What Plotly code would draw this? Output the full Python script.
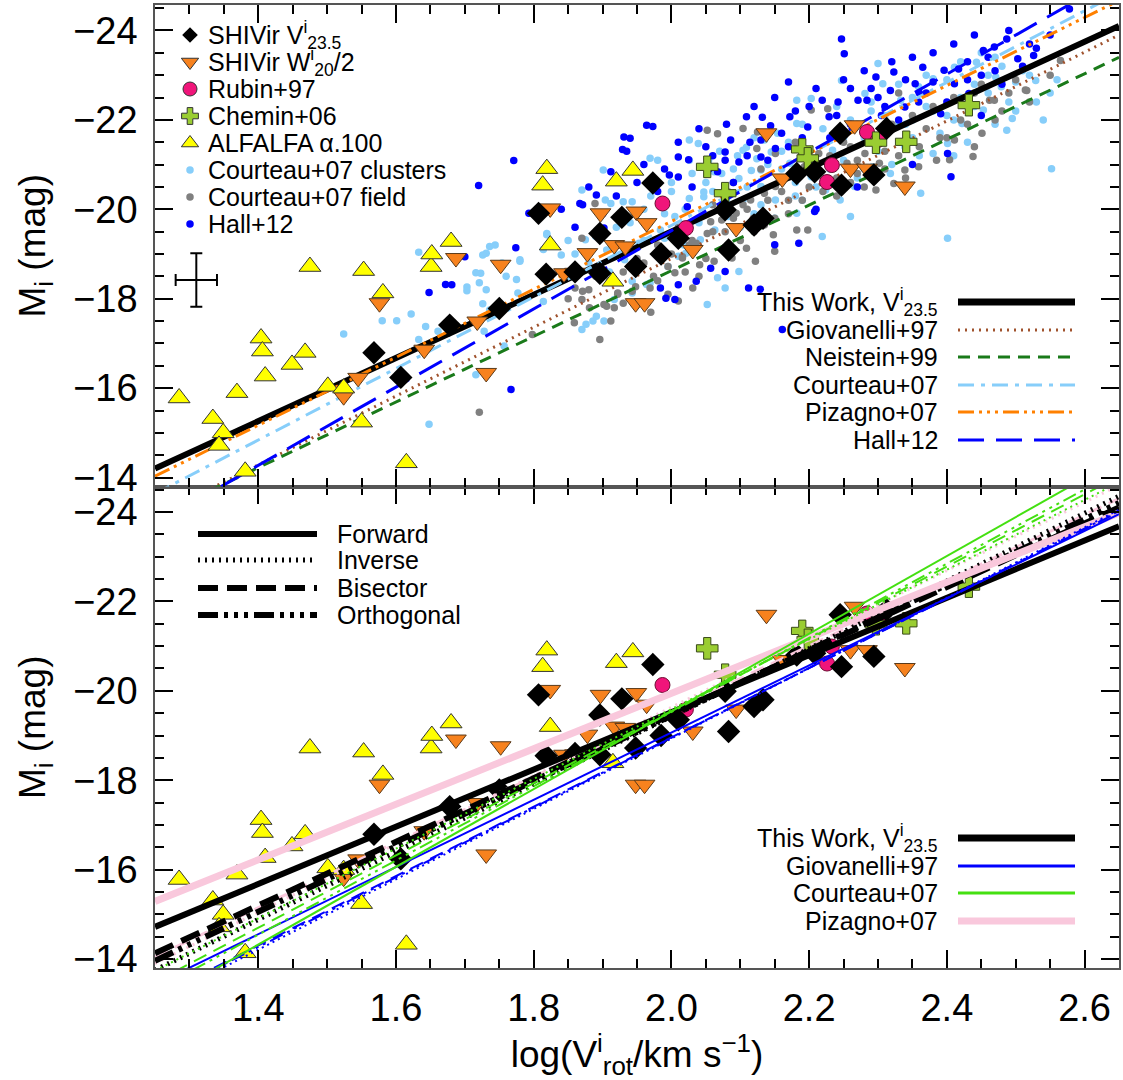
import plotly.graph_objects as go

# ---------------- data ----------------
X_RANGE = [1.25, 2.65]
Y_RANGE = [-13.8, -24.57]
X_TICKS = [1.4, 1.6, 1.8, 2.0, 2.2, 2.4, 2.6]
Y_TICKS = [-24, -22, -20, -18, -16, -14]

# SHIVir V23.5 (black diamonds)
shiv_v_x = [1.568, 1.607, 1.678, 1.750, 1.807, 1.818, 1.860, 1.896, 1.896, 1.928, 1.948, 1.973,
            1.985, 2.010, 2.078, 2.083, 2.120, 2.133, 2.182, 2.208, 2.247, 2.294, 2.245, 2.3125]
shiv_v_m = [-16.79, -16.24, -17.41, -17.78, -19.91, -18.55, -18.60, -19.46, -18.57, -19.82, -18.72, -20.59,
            -19.00, -19.35, -19.99, -19.09, -19.65, -19.80, -20.80, -20.84, -20.54, -20.77, -21.70, -21.81]
# SHIVir W20/2 (orange down triangles)
shiv_w_x = [1.524, 1.545, 1.576, 1.641, 1.687, 1.718, 1.731, 1.752, 1.824, 1.844, 1.860, 1.878, 1.897,
            1.917, 1.933, 1.949, 1.948, 1.961, 1.964, 2.031, 2.094, 2.138, 2.161, 2.260, 2.284, 2.339, 2.266]
shiv_w_m = [-15.82, -16.23, -17.90, -16.86, -18.91, -17.49, -16.34, -18.76, -20.02, -18.57, -18.58, -19.02, -19.91,
            -19.20, -19.17, -19.95, -17.90, -17.90, -19.69, -19.09, -19.58, -21.70, -20.69, -20.91, -20.91, -20.51, -21.88]
# Rubin+97
rubin_x = [1.987, 2.021, 2.226, 2.233, 2.284, 2.300]
rubin_m = [-20.13, -19.58, -20.61, -20.99, -21.73, -21.55]
# Chemin+06
chemin_x = [2.052, 2.078, 2.190, 2.198, 2.297, 2.341, 2.432]
chemin_m = [-20.95, -20.36, -21.34, -21.14, -21.49, -21.51, -22.33]
# ALFALFA a.100
alfalfa_x = [1.285, 1.334, 1.349, 1.343, 1.369, 1.381, 1.404, 1.406, 1.410, 1.449, 1.468, 1.475, 1.501, 1.524,
             1.550, 1.553, 1.581, 1.615, 1.651, 1.652, 1.680, 1.819, 1.813, 1.824, 1.920, 1.944, 1.915]
alfalfa_m = [-15.78, -15.32, -15.00, -14.72, -15.90, -14.14, -17.12, -16.83, -16.27, -16.53, -16.80, -18.72, -16.04, -16.00,
             -15.24, -18.63, -18.13, -14.33, -18.72, -19.00, -19.28, -20.91, -20.54, -19.20, -20.63, -20.87, -18.39]

# Courteau+07 clusters
cc_x = [1.524, 1.580, 1.601, 1.622, 1.633, 1.648, 1.643, 1.661, 1.703, 1.721, 1.723, 1.731, 1.744, 1.731, 1.726,
        1.760, 1.780, 1.819, 1.716, 1.757, 1.777, 1.814, 1.728, 1.633, 1.736, 1.703, 1.736, 1.726, 1.716, 1.754,
        1.775, 1.780, 1.819, 1.814, 1.840, 1.912, 1.943, 1.980, 2.039, 2.026, 2.054, 2.062, 2.047, 2.096, 2.109,
        2.116, 2.124, 2.098, 2.145, 2.026, 1.990, 2.018, 2.010, 2.067, 2.078, 2.052, 1.902, 1.886, 1.876, 1.964,
        1.943, 2.098, 2.300, 2.247, 2.203, 2.182, 2.154, 2.401, 2.552, 2.487, 2.495, 2.529, 2.500, 2.471, 2.362,
        2.260, 2.219, 2.182, 2.151, 2.026, 1.969, 1.930, 1.904, 1.901, 1.870, 2.047, 2.073, 2.104, 2.135, 2.182,
        2.281, 2.307, 2.333, 2.359, 2.380, 2.411, 2.443, 2.479, 2.453, 2.422, 2.401, 2.380, 2.339, 2.318, 2.292,
        2.266, 2.245, 2.224, 2.203, 2.234, 2.172, 2.130, 2.104, 2.083, 2.063, 2.042, 2.021, 1.995, 1.969, 1.943,
        1.917, 1.891, 1.870, 1.953, 1.984, 1.906, 1.875, 1.932, 2.005, 2.130, 2.250, 2.270, 2.290, 2.310, 2.350,
        2.370, 2.420, 2.440, 2.460, 2.510, 2.530, 2.550, 2.490, 2.400, 2.330, 2.160, 2.180, 2.210, 2.050, 2.000,
        1.960, 1.920, 1.850, 1.880, 2.120, 2.190, 2.280, 2.350,
        1.860, 1.890, 1.910, 1.940, 1.960, 1.970, 1.990, 2.000, 2.020, 2.030, 2.040, 2.060, 2.070, 2.080, 2.090,
        2.100, 2.110, 2.120, 2.130, 2.140, 2.150, 2.160, 2.170, 2.180, 2.190, 2.200, 2.210, 2.220, 2.230, 2.240,
        2.250, 2.260, 2.270, 2.280, 2.290, 2.300, 2.310, 2.320, 2.330, 2.340, 2.350, 2.360, 2.370, 2.380, 2.390,
        2.400, 2.410, 2.420, 2.430, 2.440, 2.450, 2.460, 2.470, 2.480, 2.500, 2.520, 2.540, 2.560, 2.470, 2.410]
cc_m = [-17.21, -17.51, -17.51, -17.66, -19.04, -15.19, -17.38, -17.27, -18.26, -18.36, -18.57, -19.02, -19.20, -18.20, -17.89,
        -18.50, -18.87, -19.46, -16.30, -16.94, -18.13, -17.94, -17.27, -17.09, -17.75, -18.18, -19.17, -18.98, -18.58, -18.80,
        -18.43, -18.84, -19.43, -19.10, -18.98, -20.13, -20.17, -21.10, -21.47, -21.10, -21.10, -20.84, -20.39, -21.20, -21.39,
        -20.87, -21.13, -20.69, -21.28, -20.24, -19.35, -19.20, -18.95, -18.47, -18.24, -17.87, -17.50, -17.50, -17.43, -18.32,
        -18.39, -18.61, -23.26, -22.88, -22.48, -21.92, -21.70, -19.35, -20.91, -21.77, -22.03, -22.88, -22.85, -22.96, -20.36,
        -19.84, -19.39, -19.91, -20.21, -21.55, -21.14, -20.17, -20.21, -20.88, -20.43, -20.28, -20.80, -21.32, -21.55, -22.44,
        -22.59, -22.81, -22.44, -22.74, -22.92, -23.18, -23.29, -22.74, -22.22, -21.92, -21.47, -21.25, -21.40, -20.80, -20.95,
        -20.51, -20.21, -20.43, -20.73, -21.32, -21.03, -20.51, -20.21, -19.84, -19.54, -19.32, -19.02, -18.72, -18.35, -18.13,
        -17.98, -17.61, -17.31, -19.24, -19.54, -19.09, -19.32, -18.87, -19.84, -20.88, -21.60, -21.90, -22.20, -21.70, -22.00,
        -22.30, -22.50, -22.80, -23.00, -23.10, -22.40, -22.60, -22.40, -22.10, -21.90, -21.30, -20.60, -21.00, -20.60, -20.40,
        -20.00, -19.60, -19.30, -18.80, -19.90, -20.20, -20.90, -21.60,
        -19.00, -19.40, -18.60, -19.70, -19.30, -20.30, -19.90, -20.60, -20.00, -20.80, -19.70, -20.40, -21.30, -20.20, -20.90,
        -19.60, -20.50, -21.60, -20.10, -21.00, -19.80, -20.90, -21.50, -20.30, -21.90, -21.20, -20.50, -21.80, -20.90, -22.30,
        -21.10, -22.00, -20.70, -21.60, -22.40, -21.30, -22.10, -21.00, -22.80, -21.90, -22.50, -21.20, -23.00, -22.20, -21.70,
        -22.90, -22.00, -23.30, -21.50, -22.30, -23.50, -22.60, -21.90, -23.20, -22.20, -23.00, -22.00, -22.90, -23.40, -21.20]
# Courteau+07 field
cf_x = [1.721, 1.798, 1.889, 1.870, 2.067, 2.125, 2.124, 2.083, 2.104, 2.119, 2.057, 2.078, 2.026, 2.016, 2.041,
        2.005, 2.031, 1.969, 1.943, 1.922, 1.902, 1.881, 1.871, 1.860, 1.917, 1.912, 2.010, 1.995, 2.088, 2.062,
        2.122, 2.150, 2.109, 2.148, 2.135, 2.052, 2.104, 2.227, 2.203, 2.565, 2.516, 2.469, 2.438, 2.451, 2.411,
        2.385, 2.359, 2.339, 2.323, 2.302, 2.281, 2.255, 2.214, 2.193, 2.172, 2.151, 2.135, 2.115, 2.094, 2.073,
        2.052, 2.036, 2.016, 1.995, 1.974, 1.948, 1.922, 1.906, 1.896, 1.859, 1.870, 2.151, 2.182, 2.198, 2.297,
        2.514, 2.462, 2.404, 2.240, 2.270, 2.310, 2.340, 2.370, 2.420, 2.480, 2.500, 2.440, 2.200, 2.170, 2.230,
        2.260, 2.290, 2.090, 2.010, 1.980, 1.950, 1.930, 1.890, 1.850, 2.060, 2.130, 2.400, 2.550, 1.970, 2.040,
        2.180, 2.330,
        1.880, 1.910, 1.930, 1.960, 1.980, 2.000, 2.020, 2.030, 2.050, 2.060, 2.080, 2.090, 2.100, 2.110, 2.120,
        2.140, 2.150, 2.160, 2.170, 2.180, 2.190, 2.210, 2.220, 2.230, 2.240, 2.250, 2.260, 2.270, 2.280, 2.300,
        2.310, 2.320, 2.330, 2.350, 2.360, 2.380, 2.390, 2.410, 2.430, 2.450, 2.470, 2.490, 2.520, 2.440, 2.340]
cf_m = [-15.46, -17.20, -20.13, -19.35, -21.69, -21.73, -21.36, -20.39, -20.10, -19.80, -19.72, -19.50, -19.20, -18.91, -18.76,
        -18.58, -18.24, -18.24, -18.17, -18.10, -17.87, -17.80, -18.17, -18.24, -17.80, -17.50, -17.95, -18.10, -18.91, -18.84,
        -18.84, -19.06, -19.13, -19.43, -19.65, -21.77, -21.81, -22.25, -22.22, -23.33, -22.66, -22.44, -21.18, -21.70, -21.55,
        -21.10, -20.95, -20.88, -20.58, -21.03, -21.25, -21.03, -21.25, -20.95, -20.73, -20.51, -20.36, -20.21, -19.91, -19.76,
        -19.46, -19.24, -18.94, -18.72, -18.50, -18.27, -18.13, -17.83, -17.09, -17.46, -17.98, -21.25, -19.54, -19.54, -20.43,
        -22.67, -22.44, -21.11, -20.70, -20.80, -21.30, -21.50, -21.80, -22.00, -22.20, -22.90, -22.60, -20.50, -20.20, -21.00,
        -21.40, -21.70, -20.60, -19.60, -19.20, -18.90, -18.60, -18.50, -18.00, -20.10, -20.90, -21.60, -23.00, -17.70, -18.50,
        -21.50, -22.60,
        -18.20, -18.40, -17.90, -18.80, -18.40, -19.00, -18.60, -19.30, -18.90, -19.50, -19.10, -19.80, -19.30, -20.00, -19.50,
        -20.20, -19.80, -20.40, -19.90, -20.70, -20.20, -20.90, -20.40, -21.20, -20.30, -21.50, -20.60, -21.10, -20.50, -21.60,
        -20.90, -21.90, -21.20, -22.10, -21.40, -22.30, -21.60, -22.50, -21.90, -22.80, -22.00, -22.60, -22.40, -21.40, -20.70]
# Hall+12
hall_x = [1.771, 1.720, 1.774, 1.700, 1.681, 1.648, 1.767, 1.793, 1.973, 1.935, 1.940, 2.025, 2.010, 1.871, 1.912,
          1.672, 2.036, 2.078, 2.129, 2.005, 2.132, 2.144, 2.114, 2.098, 2.078, 2.067, 2.023, 2.150, 1.902, 2.247,
          2.251, 2.170, 2.109, 1.964, 1.931, 1.929, 1.997, 2.010, 1.891, 1.867, 2.055, 2.086, 2.078, 2.130, 2.172,
          2.219, 2.242, 2.271, 2.284, 2.323, 2.354, 2.380, 2.396, 2.417, 2.453, 2.487, 2.503, 2.526, 2.469, 2.359,
          2.339, 2.406, 2.401, 2.185, 2.208, 2.057, 2.112, 2.161, 1.992, 2.010, 1.984, 2.578, 2.305, 2.391, 2.130,
          2.151, 2.198, 2.229, 2.318, 2.411, 2.432, 2.365, 2.297, 2.260, 2.200, 2.160, 2.340, 2.430, 2.470, 2.520,
          2.550, 2.290, 2.240, 2.190, 2.110, 2.050, 1.980, 1.950, 2.450, 2.370, 2.310,
          1.840, 1.860, 1.880, 1.900, 1.920, 1.960, 1.990, 2.010, 2.030, 2.040, 2.060, 2.080, 2.090, 2.120, 2.140,
          2.150, 2.170, 2.180, 2.200, 2.210, 2.230, 2.250, 2.260, 2.280, 2.300, 2.320, 2.330, 2.350, 2.360, 2.380,
          2.400, 2.410, 2.430, 2.440, 2.460, 2.480, 2.490, 2.510, 2.530, 2.270, 2.350, 2.210, 2.450]
hall_m = [-21.09, -20.53, -19.14, -18.94, -18.31, -18.14, -15.97, -19.91, -21.85, -21.30, -21.59, -21.11, -20.72, -20.10, -20.84,
          -18.32, -18.39, -18.61, -18.21, -17.98, -22.06, -21.87, -21.50, -21.06, -21.28, -20.84, -20.06, -19.21, -19.58, -23.81,
          -23.48, -22.85, -22.07, -21.88, -21.62, -21.34, -20.77, -21.17, -20.32, -20.13, -20.91, -21.55, -21.10, -21.55, -22.07,
          -22.44, -22.40, -22.44, -22.44, -23.07, -22.81, -22.85, -23.11, -23.14, -23.55, -23.81, -23.37, -23.44, -23.63, -22.40,
          -22.29, -20.73, -21.25, -19.24, -19.95, -18.68, -18.24, -17.31, -18.01, -18.31, -18.24, -24.48, -22.10, -22.14, -21.17,
          -21.36, -21.84, -22.07, -22.66, -22.81, -22.59, -23.18, -22.96, -22.70, -22.30, -21.70, -22.90, -23.30, -23.10, -23.70,
          -23.90, -22.70, -22.10, -21.60, -21.20, -21.40, -20.40, -20.60, -23.00, -22.60, -22.30,
          -20.00, -19.60, -20.50, -19.90, -20.30, -21.00, -20.90, -21.50, -20.50, -21.80, -21.20, -21.90, -20.60, -22.30, -21.10,
          -22.50, -21.40, -22.20, -21.00, -22.70, -21.60, -22.90, -21.90, -23.10, -22.50, -23.30, -22.00, -23.40, -22.60, -23.50,
          -22.40, -23.70, -22.90, -23.90, -23.40, -22.80, -24.00, -23.20, -23.60, -20.50, -21.00, -20.00, -22.10]

# typical error bar
err_x, err_m = 1.31, -18.42
err_dx, err_dm = 0.03, 0.6

# top-panel relations: magnitude at logV = 1.25 and at logV = 2.65
top_names = ["This Work, V<sup>i</sup><sub>23.5</sub>", "Giovanelli+97", "Neistein+99",
             "Courteau+07", "Pizagno+07", "Hall+12"]
top_m_lo = [-14.20, -13.13, -13.12, -13.64, -14.03, -12.96]
top_m_hi = [-24.10, -23.90, -23.40, -24.84, -24.67, -25.21]

# bottom-panel relations (forward, inverse, bisector, orthogonal)
fit_kinds = ["Forward", "Inverse", "Bisector", "Orthogonal"]
bot_names = ["This Work, V<sup>i</sup><sub>23.5</sub>", "Giovanelli+97", "Courteau+07", "Pizagno+07"]
this_lo = [-14.72, -13.75, -14.13, -13.96]
this_hi = [-23.68, -24.35, -24.10, -24.20]
giov_lo = [-13.43, -13.03, -13.14, -13.10]
giov_hi = [-23.95, -24.05, -24.00, -24.02]
cour_lo = [-13.02, -13.74, -13.49, -13.30]
cour_hi = [-25.19, -24.66, -24.80, -24.92]
piza_lo = [-15.29, -13.90, -14.05]
piza_hi = [-23.98, -24.60, -24.30]

# ---------------- layout constants ----------------
W, H = 1123, 1080
ML, MR, MT, MB = 155, 4, 5, 112
PW, PH = W - ML - MR, H - MT - MB
FONT = "Liberation Sans, Arial, Helvetica, sans-serif"

def px2paper_x(px):
    return (px - ML) / PW

def py2paper_y(py):
    return (H - MB - py) / PH

def px2data_x(px):
    return X_RANGE[0] + (px - ML) / PW * (X_RANGE[1] - X_RANGE[0])

def py2data_top(py):
    return Y_RANGE[1] + (py - MT) / (PH / 2) * (Y_RANGE[0] - Y_RANGE[1])

fig = go.Figure()
TOP = dict(xaxis="x2", yaxis="y2")
BOT = dict(xaxis="x", yaxis="y")
XE = [X_RANGE[0], X_RANGE[1]]

# ---------- top panel ----------
fig.add_trace(go.Scatter(x=cc_x, y=cc_m, mode="markers", marker=dict(size=7.5, color="#87cefa", opacity=1), **TOP))
fig.add_trace(go.Scatter(x=cf_x, y=cf_m, mode="markers", marker=dict(size=7.5, color="#808080", opacity=1), **TOP))
fig.add_trace(go.Scatter(x=hall_x, y=hall_m, mode="markers", marker=dict(size=7.5, color="#0000ff", opacity=1), **TOP))

top_styles = [
    dict(color="black", width=6, dash="solid"),
    dict(color="#a0522d", width=3, dash="2px,5px"),
    dict(color="#1a7a1a", width=3, dash="12px,8px"),
    dict(color="#87cefa", width=3, dash="16px,7px,4px,7px"),
    dict(color="#ff8000", width=3, dash="16px,5px,3px,5px,3px,5px,3px,5px"),
    dict(color="#0000ff", width=3, dash="26px,12px"),
]
for lo, hi, st in zip(top_m_lo, top_m_hi, top_styles):
    fig.add_trace(go.Scatter(x=XE, y=[lo, hi], mode="lines", line=st, **TOP))

def add_points(ax):
    fig.add_trace(go.Scatter(x=shiv_w_x, y=shiv_w_m, mode="markers",
                             marker=dict(symbol="triangle-down", size=18, color="#f7821e", opacity=1,
                                         line=dict(color="#5a3a1a", width=1)), **ax))
    fig.add_trace(go.Scatter(x=alfalfa_x, y=alfalfa_m, mode="markers",
                             marker=dict(symbol="triangle-up", size=19, color="#ffff00", opacity=1,
                                         line=dict(color="#333333", width=1)), **ax))
    fig.add_trace(go.Scatter(x=rubin_x, y=rubin_m, mode="markers",
                             marker=dict(symbol="circle", size=15, color="#f0157a", opacity=1,
                                         line=dict(color="#6a0a30", width=1)), **ax))
    fig.add_trace(go.Scatter(x=chemin_x, y=chemin_m, mode="markers",
                             marker=dict(symbol="cross", size=18, color="#9acd32", opacity=1,
                                         line=dict(color="#3a4a1a", width=1)), **ax))
    fig.add_trace(go.Scatter(x=shiv_v_x, y=shiv_v_m, mode="markers",
                             marker=dict(symbol="diamond", size=18, color="black", opacity=1), **ax))

add_points(TOP)

fig.add_trace(go.Scatter(x=[err_x], y=[err_m], mode="markers", marker=dict(size=1, color="black"),
                         error_x=dict(type="constant", value=err_dx, thickness=2, width=6, color="black"),
                         error_y=dict(type="constant", value=err_dm, thickness=2, width=6, color="black"),
                         **TOP))

# ---------- bottom panel ----------
add_points(BOT)

black_styles = [dict(width=6, dash="solid"), dict(width=5, dash="2px,5px"),
                dict(width=6, dash="20px,9px"), dict(width=6, dash="20px,6px,4px,6px,4px,6px,4px,6px")]
thin_dash = ["solid", "2px,4px", "14px,8px", "14px,5px,3px,5px,3px,5px,3px,5px"]

for lo, hi, d in zip(piza_lo[1:], piza_hi[1:], ["2px,5px", "14px,8px"]):
    fig.add_trace(go.Scatter(x=XE, y=[lo, hi], mode="lines",
                             line=dict(color="#f9c8dc", width=3, dash=d), **BOT))
for lo, hi, st in zip(this_lo, this_hi, black_styles):
    fig.add_trace(go.Scatter(x=XE, y=[lo, hi], mode="lines", line=dict(color="black", **st), **BOT))
fig.add_trace(go.Scatter(x=XE, y=[piza_lo[0], piza_hi[0]], mode="lines",
                         line=dict(color="#f9c8dc", width=7), **BOT))
for lo, hi, d in zip(giov_lo, giov_hi, thin_dash):
    fig.add_trace(go.Scatter(x=XE, y=[lo, hi], mode="lines", line=dict(color="#0000ff", width=2, dash=d), **BOT))
for lo, hi, d in zip(cour_lo, cour_hi, thin_dash):
    fig.add_trace(go.Scatter(x=XE, y=[lo, hi], mode="lines", line=dict(color="#44e011", width=2, dash=d), **BOT))

# ---------- legends (manual) ----------
ann = []
shapes = []
LEG_FS = 25

# top-left symbol legend
leg_rows = [35, 62, 89, 116, 143, 170, 197, 224]
leg_text = ["SHIVir V<sup>i</sup><sub>23.5</sub>", "SHIVir W<sup>i</sup><sub>20</sub>/2", "Rubin+97", "Chemin+06",
            "ALFALFA \u03b1.100", "Courteau+07 clusters", "Courteau+07 field", "Hall+12"]
leg_sym = ["diamond", "triangle-down", "circle", "cross", "triangle-up", "circle", "circle", "circle"]
leg_col = ["black", "#f7821e", "#f0157a", "#9acd32", "#ffff00", "#87cefa", "#808080", "#0000ff"]
leg_size = [12, 15, 14, 14, 15, 7.5, 7.5, 7.5]
leg_line = [0, 1, 1, 1, 1, 0, 0, 0]
fig.add_trace(go.Scatter(x=[px2data_x(190)] * len(leg_rows), y=[py2data_top(r) for r in leg_rows],
                         mode="markers",
                         marker=dict(symbol=leg_sym, size=leg_size, color=leg_col, opacity=1,
                                     line=dict(color="#333333", width=leg_line)), **TOP))
for r, t in zip(leg_rows, leg_text):
    ann.append(dict(x=px2paper_x(206), y=py2paper_y(r), xref="paper", yref="paper", text=t,
                    showarrow=False, xanchor="left", yanchor="middle",
                    font=dict(size=LEG_FS, family=FONT, color="black")))

# top-right line legend
tr_rows = [302, 330, 357, 385, 412, 440]
for r, t, st in zip(tr_rows, top_names, top_styles):
    ann.append(dict(x=px2paper_x(940), y=py2paper_y(r), xref="paper", yref="paper", text=t,
                    showarrow=False, xanchor="right", yanchor="middle",
                    font=dict(size=LEG_FS, family=FONT, color="black")))
    shapes.append(dict(type="line", xref="paper", yref="paper", x0=px2paper_x(958), x1=px2paper_x(1075),
                       y0=py2paper_y(r), y1=py2paper_y(r),
                       line=dict(color=st["color"], width=st["width"] + (1 if st["width"] > 4 else 0), dash=st["dash"])))

# bottom-left fit-type legend
bl_rows = [534, 560, 588, 615]
for r, t, st in zip(bl_rows, fit_kinds, black_styles):
    ann.append(dict(x=px2paper_x(335), y=py2paper_y(r), xref="paper", yref="paper", text=t,
                    showarrow=False, xanchor="left", yanchor="middle",
                    font=dict(size=LEG_FS, family=FONT, color="black")))
    shapes.append(dict(type="line", xref="paper", yref="paper", x0=px2paper_x(198), x1=px2paper_x(317),
                       y0=py2paper_y(r), y1=py2paper_y(r),
                       line=dict(color="black", width=st["width"], dash=st["dash"])))

# bottom-right source legend
br_rows = [838, 866, 893, 921]
br_cols = ["black", "#0000ff", "#44e011", "#f9c8dc"]
br_w = [7, 3, 3, 7]
for r, t, c, w in zip(br_rows, bot_names, br_cols, br_w):
    ann.append(dict(x=px2paper_x(940), y=py2paper_y(r), xref="paper", yref="paper", text=t,
                    showarrow=False, xanchor="right", yanchor="middle",
                    font=dict(size=LEG_FS, family=FONT, color="black")))
    shapes.append(dict(type="line", xref="paper", yref="paper", x0=px2paper_x(958), x1=px2paper_x(1075),
                       y0=py2paper_y(r), y1=py2paper_y(r), line=dict(color=c, width=w)))

# ---------- axes ----------
TICKFONT = dict(size=38, family=FONT, color="black")
TITLEFONT = dict(size=37, family=FONT, color="black")
common_x = dict(range=X_RANGE, tickvals=X_TICKS, tickformat=".1f", ticks="inside", ticklen=18, tickwidth=1.5,
                tickcolor="black", showline=True, linecolor="#555555", linewidth=1.5, mirror="allticks",
                showgrid=False, zeroline=False, ticklabelstandoff=6,
                minor=dict(dtick=0.05, tick0=1.25, ticks="inside", ticklen=9, tickwidth=1.5, tickcolor="black",
                           showgrid=False),
                tickfont=TICKFONT)
common_y = dict(range=Y_RANGE, tickvals=Y_TICKS, ticks="inside", ticklen=18, tickwidth=1.5,
                tickcolor="black", showline=True, linecolor="#555555", linewidth=1.5, mirror="allticks",
                showgrid=False, zeroline=False, ticklabelstandoff=8,
                minor=dict(dtick=0.5, tick0=-24, ticks="inside", ticklen=9, tickwidth=1.5, tickcolor="black",
                           showgrid=False),
                tickfont=TICKFONT,
                title=dict(text="M<sub>i</sub> (mag)", font=TITLEFONT, standoff=16))

fig.update_layout(
    width=W, height=H, margin=dict(l=ML, r=MR, t=MT, b=MB, autoexpand=False),
    paper_bgcolor="white", plot_bgcolor="white", showlegend=False,
    font=dict(family=FONT, color="black"),
    xaxis=dict(domain=[0, 1], anchor="y",
               title=dict(text="log(V<sup>i</sup><sub>rot</sub>/km s<sup>\u22121</sup>)",
                          font=TITLEFONT, standoff=6),
               **common_x),
    yaxis=dict(domain=[0, 0.5], anchor="x", **common_y),
    xaxis2=dict(domain=[0, 1], anchor="y2", showticklabels=False, **common_x),
    yaxis2=dict(domain=[0.5, 1], anchor="x2", **common_y),
    annotations=ann, shapes=shapes,
)

fig.write_html("out.html")
